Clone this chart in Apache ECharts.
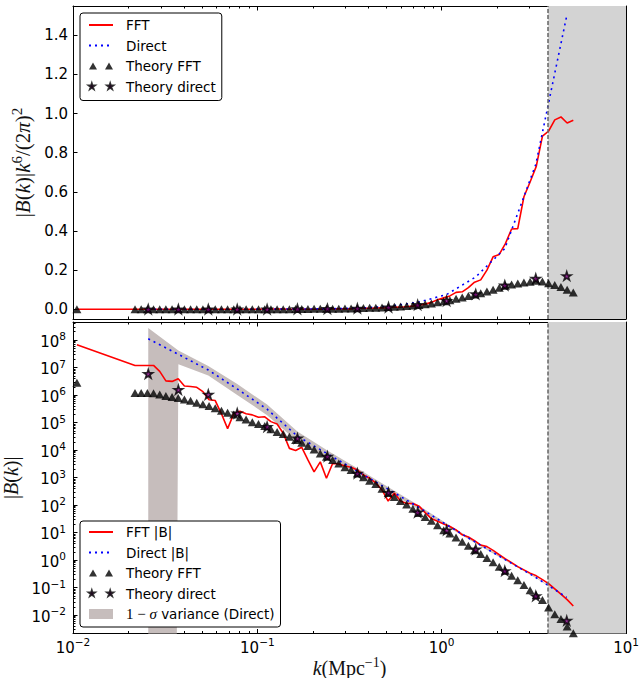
<!DOCTYPE html>
<html>
<head>
<meta charset="utf-8">
<title>|B(k)| FFT vs direct</title>
<script src="https://cdn.jsdelivr.net/npm/echarts@6/dist/echarts.min.js"></script>
<style>
  html, body { margin: 0; padding: 0; background: #fff; }
  #chart { width: 641px; height: 678px; }
</style>
</head>
<body>
<div id="chart"></div>
<script>
// FFT bins (k in Mpc^-1)
const kFFT = [0.0105, 0.0217, 0.02344, 0.02532, 0.02735, 0.02954, 0.03191, 0.03447, 0.03723, 0.04021,
  0.04343, 0.04691, 0.05067, 0.05473, 0.05912, 0.06386, 0.06898, 0.07451, 0.08048, 0.08693,
  0.0939, 0.1015, 0.1097, 0.1185, 0.128, 0.1382, 0.1493, 0.1613, 0.1742, 0.1881,
  0.2032, 0.2195, 0.2371, 0.2561, 0.2766, 0.2988, 0.3227, 0.3486, 0.3765, 0.4067,
  0.4393, 0.4746, 0.5126, 0.5537, 0.5981, 0.646, 0.6978, 0.7537, 0.8141, 0.8794,
  0.9498, 1.026, 1.108, 1.197, 1.293, 1.396, 1.508, 1.629, 1.76, 1.901,
  2.053, 2.217, 2.395, 2.587, 2.794, 3.018, 3.26, 3.521, 3.803, 4.108,
  4.437, 4.794, 5.178];

// top panel: |B(k)| k^6 / (2 pi)^2
const fftTop = [0,
  0, 0, 0, 0, 0, 0, 0, 0, 0, 0, 0, 0, 0, 0, 0, 0, 0, 0, 0, 0, 0,
  0.001, 0.001, 0.001, 0.001, 0, 0, 0.001, 0, 0, 0.001, 0, 0.002, 0.002, 0.002, 0.002,
  0.004, 0.005, 0.005, 0.006, 0.007, 0.006, 0.011, 0.010, 0.013, 0.016, 0.020, 0.026,
  0.035, 0.048, 0.058, 0.068, 0.086, 0.089, 0.110, 0.138, 0.150, 0.200, 0.268, 0.280,
  0.335, 0.410, 0.412, 0.575, 0.650, 0.730, 0.885, 0.910, 0.968, 0.983, 0.952, 0.966];
const theoryTop = [0,
  0, 0, 0, 0, 0, 0, 0, 0, 0, 0, 0, 0, 0, 0, 0, 0, 0, 0, 0, 0, 0, 0, 0, 0, 0, 0,
  0.001, 0.001, 0.001, 0.002, 0.002, 0.002, 0.003, 0.003, 0.004, 0.004,
  0.005, 0.006, 0.007, 0.008, 0.009, 0.011, 0.012, 0.014, 0.016, 0.019,
  0.022, 0.025, 0.029, 0.035, 0.041, 0.046, 0.053, 0.060, 0.067, 0.075,
  0.082, 0.090, 0.100, 0.110, 0.120, 0.126, 0.131, 0.136, 0.140, 0.146,
  0.142, 0.133, 0.124, 0.114, 0.100, 0.085];

// bottom panel: |B(k)|
const fftB = [6.78e7,
  1.19e7, 1.19e7, 1.19e7, 1.19e7, 7.24e6, 3.28e6, 3.13e6, 3.93e6, 2.13e6, 2.04e6,
  1.91e6, 1.33e6, 6.74e5, 6.30e5, 2.08e5, 6.0e4, 2.08e5, 2.55e5, 2.08e5, 1.90e5,
  1.55e5, 1.62e5, 1.08e5, 8.81e4, 4.08e4, 1.15e4, 9.61e3, 1.26e4, 4.36e3, 1.61e3,
  3.72e3, 938, 3.25e3, 3.10e3, 2.65e3, 2.37e3, 1.89e3, 1.23e3, 938, 638,
  354, 140, 276, 140, 114, 114, 91.2, 53.1, 32.3, 25.8,
  20.5, 16.7, 12.5, 8.32, 6.93, 5.06, 3.52, 3.08, 2.24, 1.56,
  1.11, 0.809, 0.577, 0.440, 0.335, 0.267, 0.195, 0.139, 0.0904, 0.0575,
  0.0366, 0.0213];
const theoryB = [2.80e6,
  1.19e6, 1.19e6, 1.19e6, 1.16e6, 1.04e6, 9.25e5, 8.45e5, 7.73e5, 6.89e5, 6.15e5,
  5.26e5, 4.59e5, 4.01e5, 3.34e5, 2.67e5, 2.28e5, 1.95e5, 1.55e5, 1.29e5, 1.03e5,
  8.81e4, 7.52e4, 5.73e4, 4.57e4, 3.82e4, 3.05e4, 2.32e4, 1.85e4, 1.41e4, 1.05e4,
  7.50e3, 5.71e3, 4.36e3, 3.25e3, 2.37e3, 1.89e3, 1.41e3, 1.03e3, 764, 582,
  388, 276, 197, 140, 104, 72.8, 51.9, 37.0, 26.9, 18.3,
  12.2, 9.31, 6.62, 4.61, 3.29, 2.29, 1.67, 1.19, 0.828, 0.577,
  0.411, 0.267, 0.186, 0.124, 0.0807, 0.0537, 0.0350, 0.0190, 0.0108, 0.00718,
  0.00381, 0.00217];

// direct estimator bins
const kDirect = [0.0256, 0.0373, 0.0542, 0.0778, 0.113, 0.165, 0.240, 0.349, 0.515, 0.741, 1.064, 1.53, 2.20, 3.24, 4.77];
const directTop = [0, 0, 0, 0, 0.0005, 0.001, 0.002, 0.005, 0.015, 0.035, 0.075, 0.165, 0.31, 0.74, 1.50];
const starsTop = [0, 0, 0, 0, 0, 0.001, 0.002, 0.004, 0.010, 0.022, 0.043, 0.077, 0.122, 0.157, 0.170];
const directB = [1.11e8, 3.01e7, 8.11e6, 1.66e6, 3.05e5, 3.18e4, 7.33e3, 1.69e3, 371, 87.3, 19.2, 4.42, 1.06, 0.233, 0.0439];
const bandHi = [2.75e8, 4.12e7, 1.14e7, 2.50e6, 4.49e5, 4.68e4, 9.6e3, 2.2e3, 445, 102, 21.5, 4.83, 1.14, 0.244, 0.0449];
const bandLo = [0, 1.32e7, 5.15e6, 1.01e6, 1.86e5, 2.03e4, 5.2e3, 1.25e3, 300, 72.8, 17.1, 4.03, 0.993, 0.223, 0.0429];
const starsB = [5.90e6, 1.56e6, 1.04e6, 2.18e5, 7.03e4, 2.66e4, 5.85e3, 1.41e3, 282, 54.3, 12.2, 2.45, 0.402, 0.0491, 0.00627];

const kNyquist = 3.77;

// ticks
const xMajor = [0.01, 0.1, 1, 10];
const yTopTicks = [0, 0.2, 0.4, 0.6, 0.8, 1.0, 1.2, 1.4];
const yLogMajor = [1e-2, 1e-1, 1, 10, 100, 1e3, 1e4, 1e5, 1e6, 1e7, 1e8];
const subs = [2, 3, 4, 5, 6, 7, 8, 9];
function minorTicks(decades) {
  const out = [];
  decades.forEach(d => subs.forEach(s => out.push(+(s * d).toPrecision(3))));
  return out;
}
const xMinor = minorTicks([0.01, 0.1, 1]);
const yLogMinor = minorTicks([1e-3, 1e-2, 1e-1, 1, 10, 100, 1e3, 1e4, 1e5, 1e6, 1e7, 1e8]);

const SANS = 'DejaVu Sans';
const SERIF = 'Liberation Serif';
const BAND = '#c6bdbc';
const SHADE = '#d3d3d3';
const VAR_NAME = '1 − σ variance (Direct)';
const STAR = 'path://M0,-10L2.245,-3.09L9.51,-3.09L3.63,1.18L5.88,8.09L0,3.82L-5.88,8.09L-3.63,1.18L-9.51,-3.09L-2.245,-3.09Z';
const TRI2 = 'path://M0,7L4,0L8,7ZM16,7L20,0L24,7Z';
// two small stars; the zero-length moves widen the box so they come out small
const STAR2 = 'path://M0.49,-7L0.49,-7M82.01,26.9L82.01,26.9' +
  'M10,0L12.245,6.91L19.51,6.91L13.63,11.18L15.88,18.09L10,13.82L4.12,18.09L6.37,11.18L0.49,6.91L7.755,6.91Z' +
  'M72.5,0L74.745,6.91L82.01,6.91L76.13,11.18L78.38,18.09L72.5,13.82L66.62,18.09L68.87,11.18L62.99,6.91L70.255,6.91Z';

const pts = (xs, ys) => xs.map((x, i) => [x, ys[i]]);

const powRich = {
  b: { fontFamily: SANS, fontSize: 15, color: '#000', padding: [3, 0, 0, 0] },
  s: { fontFamily: SANS, fontSize: 10.5, color: '#000', padding: [0, 0, 8, 0] }
};
const powLabel = v => '{b|10}{s|' + String(Math.round(Math.log10(v))).replace('-', '−') + '}';

function mathRich(size) {
  return {
    n: { fontFamily: SERIF, fontSize: size, color: '#111' },
    i: { fontFamily: SERIF, fontSize: size, fontStyle: 'italic', color: '#111' },
    s: { fontFamily: SERIF, fontSize: Math.round(size * 0.7), color: '#111', padding: [0, 0, Math.round(size * 0.5), 0] }
  };
}

const black = { color: '#000', width: 1 };

// x axes: major/minor ticks, bottom/top, for each grid
function xAxisDef(grid, position, ticks, len, extra) {
  return Object.assign({
    type: 'log', gridIndex: grid, position: position, min: 0.01, max: 10,
    axisLine: { show: len > 3, onZero: false, lineStyle: black },
    axisTick: { show: true, inside: true, length: len, customValues: ticks, lineStyle: black },
    axisLabel: { show: false },
    splitLine: { show: false }
  }, extra || {});
}
function yAxisDef(grid, position, type, min, max, ticks, len, extra) {
  return Object.assign({
    type: type, gridIndex: grid, position: position, min: min, max: max,
    axisLine: { show: len > 3, onZero: false, lineStyle: black },
    axisTick: { show: true, inside: true, length: len, customValues: ticks, lineStyle: black },
    axisLabel: { show: false },
    splitLine: { show: false }
  }, extra || {});
}

const xAxes = [
  xAxisDef(0, 'bottom', xMajor, 4.5),
  xAxisDef(1, 'bottom', xMajor, 4.5, {
    axisLabel: { show: true, customValues: xMajor, formatter: powLabel, rich: powRich, margin: 3 },
    name: '{i|k}{n|(Mpc}{s|−1}{n|)}',
    nameLocation: 'middle', nameGap: 14,
    nameTextStyle: { rich: mathRich(20) }
  }),
  xAxisDef(0, 'top', xMajor, 4.5),
  xAxisDef(1, 'top', xMajor, 4.5),
  xAxisDef(0, 'bottom', xMinor, 2.5),
  xAxisDef(0, 'top', xMinor, 2.5),
  xAxisDef(1, 'bottom', xMinor, 2.5),
  xAxisDef(1, 'top', xMinor, 2.5)
];

const yAxes = [
  yAxisDef(0, 'left', 'value', -0.05, 1.55, yTopTicks, 4.5, {
    axisLabel: { show: true, customValues: yTopTicks, formatter: v => v.toFixed(1),
      fontFamily: SANS, fontSize: 15, color: '#000', margin: 5 },
    name: '{n||}{i|B}{n|(}{i|k}{n|)|}{i|k}{s|6}{n|/(2}{i|π}{n|)}{s|2}',
    nameLocation: 'middle', nameRotate: 90, nameGap: 33,
    nameTextStyle: { rich: mathRich(21) }
  }),
  yAxisDef(1, 'left', 'log', 0.00214, 4.52e8, yLogMajor, 4.5, {
    axisLabel: { show: true, customValues: yLogMajor, formatter: powLabel, rich: powRich, margin: 7 },
    name: '{n||}{i|B}{n|(}{i|k}{n|)|}',
    nameLocation: 'middle', nameRotate: 90, nameGap: 35,
    nameTextStyle: { rich: mathRich(20) }
  }),
  yAxisDef(0, 'right', 'value', -0.05, 1.55, yTopTicks, 4.5),
  yAxisDef(1, 'right', 'log', 0.00214, 4.52e8, yLogMajor, 4.5),
  yAxisDef(1, 'left', 'log', 0.00214, 4.52e8, yLogMinor, 2.5),
  yAxisDef(1, 'right', 'log', 0.00214, 4.52e8, yLogMinor, 2.5)
];

// grey region beyond the Nyquist-like cut plus its dashed edge
function shadeSeries(xi, yi) {
  return {
    type: 'line', xAxisIndex: xi, yAxisIndex: yi, data: [], silent: true, z: 0,
    markArea: { silent: true, itemStyle: { color: SHADE }, data: [[{ xAxis: kNyquist }, { xAxis: 10 }]] },
    markLine: {
      silent: true, symbol: ['none', 'none'], label: { show: false },
      lineStyle: { color: '#666', type: [4, 2], width: 1.5 },
      data: [{ xAxis: kNyquist }]
    }
  };
}

const fftStyle = { color: '#ff0000', width: 1.6 };
const directStyle = { color: '#0000ff', width: 1.6, type: [2, 4] };
const triStyle = { color: '#000' };
const starStyle = { color: '#800080', borderColor: '#000', borderWidth: 1.6 };
const noMarker = { color: 'rgba(0,0,0,0)', borderColor: 'rgba(0,0,0,0)', borderWidth: 0 };

const series = [
  shadeSeries(0, 0),
  shadeSeries(1, 1),
  { name: 'FFT', type: 'line', xAxisIndex: 0, yAxisIndex: 0, data: pts(kFFT, fftTop),
    symbol: 'none', lineStyle: fftStyle, itemStyle: { color: '#ff0000' }, z: 3 },
  { name: 'Direct', type: 'line', xAxisIndex: 0, yAxisIndex: 0, data: pts(kDirect, directTop),
    symbol: 'none', lineStyle: directStyle, itemStyle: { color: '#0000ff' }, z: 4 },
  { name: 'Theory FFT', type: 'scatter', xAxisIndex: 0, yAxisIndex: 0, data: pts(kFFT, theoryTop),
    symbol: 'triangle', symbolSize: [9, 8], itemStyle: triStyle, z: 5 },
  { name: 'Theory direct', type: 'scatter', xAxisIndex: 0, yAxisIndex: 0, data: pts(kDirect, starsTop),
    symbol: STAR, symbolSize: [9, 8.6], itemStyle: starStyle, z: 6 },
  { name: VAR_NAME, type: 'custom', xAxisIndex: 1, yAxisIndex: 1, data: pts(kDirect, bandHi),
    itemStyle: { color: BAND }, z: 2, silent: true,
    renderItem: function (params, api) {
      if (params.dataIndex !== 0) return null;
      const cs = params.coordSys;
      const far = cs.y + cs.height + 5000;
      const poly = [];
      for (let i = 0; i < kDirect.length; i++) poly.push(api.coord([kDirect[i], bandHi[i]]));
      for (let i = kDirect.length - 1; i >= 0; i--) {
        if (bandLo[i] > 0) poly.push(api.coord([kDirect[i], bandLo[i]]));
        else poly.push([api.coord([kDirect[i], bandHi[i]])[0], far]);
      }
      return {
        type: 'polygon', shape: { points: poly }, style: { fill: BAND },
        clipPath: { type: 'rect', shape: { x: cs.x, y: cs.y, width: cs.width, height: cs.height } }
      };
    } },
  { name: 'FFT |B|', type: 'line', xAxisIndex: 1, yAxisIndex: 1, data: pts(kFFT, fftB),
    symbol: 'none', lineStyle: fftStyle, itemStyle: { color: '#ff0000' }, z: 3 },
  { name: 'Direct |B|', type: 'line', xAxisIndex: 1, yAxisIndex: 1, data: pts(kDirect, directB),
    symbol: 'none', lineStyle: directStyle, itemStyle: { color: '#0000ff' }, z: 4 },
  { name: 'Theory FFT', type: 'scatter', xAxisIndex: 1, yAxisIndex: 1, data: pts(kFFT, theoryB),
    symbol: 'triangle', symbolSize: [9, 8], itemStyle: triStyle, z: 5 },
  { name: 'Theory direct', type: 'scatter', xAxisIndex: 1, yAxisIndex: 1, data: pts(kDirect, starsB),
    symbol: STAR, symbolSize: [9, 8.6], itemStyle: starStyle, z: 6 }
];

const legendBase = {
  orient: 'vertical', selectedMode: false,
  itemWidth: 24, itemHeight: 10, itemGap: 4.5,
  backgroundColor: '#fff', borderColor: '#000', borderWidth: 1, borderRadius: 3,
  textStyle: { fontFamily: SANS, fontSize: 13.5, color: '#000', lineHeight: 16, padding: [0, 0, 0, 8],
    rich: {
      m: { fontFamily: SERIF, fontSize: 15, color: '#000' },
      mi: { fontFamily: SERIF, fontSize: 15, fontStyle: 'italic', color: '#000' },
      t: { fontFamily: SANS, fontSize: 13.5, color: '#000' }
    } }
};

const option = {
  animation: false,
  backgroundColor: '#fff',
  textStyle: { fontFamily: SANS },
  grid: [
    { left: 73, top: 6, width: 553, height: 313, containLabel: false, outerBoundsMode: 'none' },
    { left: 73, top: 322, width: 553, height: 311.5, containLabel: false, outerBoundsMode: 'none' }
  ],
  xAxis: xAxes,
  yAxis: yAxes,
  legend: [
    Object.assign({}, legendBase, {
      left: 80, top: 13, padding: [4, 6, 6, 8],
      data: [{ name: 'FFT', itemStyle: noMarker }, { name: 'Direct', itemStyle: noMarker },
        { name: 'Theory FFT', icon: TRI2 }, { name: 'Theory direct', icon: STAR2 }]
    }),
    Object.assign({}, legendBase, {
      left: 80, top: 521, padding: [3, 6, 5, 8],
      data: [{ name: 'FFT |B|', itemStyle: noMarker }, { name: 'Direct |B|', itemStyle: noMarker },
        { name: 'Theory FFT', icon: TRI2 }, { name: 'Theory direct', icon: STAR2 }, { name: VAR_NAME, icon: 'rect' }],
      formatter: name => name === VAR_NAME ? '{m|1 − }{mi|σ}{t| variance (Direct)}' : name
    })
  ],
  series: series
};

const chart = echarts.init(document.getElementById('chart'), null, { renderer: 'svg' });
chart.setOption(option);
</script>
</body>
</html>
